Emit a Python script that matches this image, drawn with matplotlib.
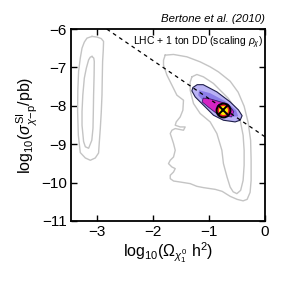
import matplotlib
matplotlib.use("Agg")
import matplotlib.pyplot as plt
import numpy as np

plt.rcParams['font.family'] = ['Liberation Sans', 'DejaVu Sans']
plt.rcParams['mathtext.fontset'] = 'custom'
plt.rcParams['mathtext.rm'] = 'Liberation Sans'
plt.rcParams['mathtext.it'] = 'Liberation Sans:italic'
plt.rcParams['mathtext.sf'] = 'Liberation Sans'

# ---- data (log10 Omega h^2, log10 sigma) ----
left_outer_x = [-3.095, -3.000, -2.929, -2.888, -2.893, -2.905, -2.911, -2.916, -2.929, -2.946,
                -2.964, -2.977, -3.036, -3.125, -3.214, -3.304, -3.339, -3.352, -3.348, -3.334,
                -3.304, -3.273, -3.232, -3.184]
left_outer_y = [-6.191, -6.209, -6.248, -6.321, -6.548, -6.843, -7.279, -7.715, -8.167, -8.585,
                -8.950, -9.230, -9.360, -9.420, -9.360, -9.220, -8.768, -8.141, -7.593, -7.097,
                -6.757, -6.496, -6.339, -6.235]

left_inner_x = [-3.095, -3.063, -3.054, -3.057, -3.066, -3.071, -3.077, -3.098, -3.155, -3.214,
                -3.245, -3.273, -3.273, -3.259, -3.232, -3.196, -3.155, -3.125]
left_inner_y = [-6.713, -6.757, -6.843, -7.201, -7.715, -8.167, -8.585, -8.898, -9.107, -9.068,
                -8.932, -8.507, -8.149, -7.723, -7.279, -7.018, -6.802, -6.731]

right_outer_x = [-1.786, -1.637, -1.398, -1.161, -0.982, -0.834, -0.625, -0.482, -0.375, -0.304,
                 -0.259, -0.250, -0.250, -0.268, -0.321, -0.393, -0.500, -0.625, -0.768, -0.893,
                 -0.982, -1.102, -1.220, -1.339, -1.518, -1.637, -1.696, -1.696, -1.637, -1.607,
                 -1.666, -1.727, -1.696, -1.637, -1.607, -1.637, -1.666, -1.696, -1.666, -1.607,
                 -1.459, -1.429, -1.518, -1.607, -1.589, -1.518, -1.470, -1.459, -1.577, -1.666,
                 -1.755, -1.816, -1.816]
right_outer_y = [-6.679, -6.661, -6.723, -6.854, -6.984, -7.115, -7.358, -7.645, -8.010, -8.428,
                 -8.898, -9.420, -9.943, -10.256, -10.439, -10.478, -10.439, -10.360, -10.230, -10.178,
                 -10.159, -10.133, -10.099, -10.029, -9.987, -9.961, -9.898, -9.812, -9.726, -9.637,
                 -9.595, -9.507, -9.420, -9.334, -9.159, -8.984, -8.854, -8.723, -8.637, -8.593,
                 -8.637, -8.551, -8.551, -8.507, -8.420, -8.290, -8.115, -7.854, -7.723, -7.462,
                 -7.201, -6.940, -6.809]

right_inner_x = [-1.309, -1.220, -1.102, -0.923, -0.804, -0.661, -0.536, -0.446, -0.393, -0.375,
                 -0.375, -0.393, -0.437, -0.505, -0.571, -0.625, -0.679, -0.745, -0.773, -0.862,
                 -0.982, -1.161, -1.280, -1.339, -1.339]
right_inner_y = [-7.245, -7.183, -7.245, -7.418, -7.593, -7.802, -8.063, -8.376, -8.768, -9.159,
                 -9.551, -9.943, -10.204, -10.290, -10.243, -10.117, -9.864, -9.507, -9.159, -8.723,
                 -8.420, -8.201, -7.940, -7.593, -7.384]

purple_x = [-1.291, -1.214, -1.107, -0.862, -0.625, -0.477, -0.411, -0.446, -0.536, -0.745,
            -0.923, -1.102, -1.250, -1.309]
purple_y = [-7.522, -7.449, -7.449, -7.637, -7.898, -8.107, -8.258, -8.376, -8.420, -8.376,
            -8.245, -7.984, -7.768, -7.611]

violet_x = [-1.179, -0.982, -0.714, -0.518, -0.482, -0.625, -0.893, -1.107, -1.196]
violet_y = [-7.593, -7.671, -7.880, -8.115, -8.272, -8.298, -8.141, -7.880, -7.723]

magenta_x = [-1.107, -0.982, -0.839, -0.661, -0.560, -0.600, -0.839, -1.018, -1.125]
magenta_y = [-7.800, -7.820, -7.880, -7.960, -8.150, -8.290, -8.230, -8.030, -7.900]

best_fit_x = [-0.745]
best_fit_y = [-8.12]

dd_line_x = [-2.83, 0.0]
dd_line_y = [-6.0, -8.81]

xticks = [-3, -2, -1, 0]
yticks = [-11, -10, -9, -8, -7, -6]


def closed(a):
    return list(a) + [a[0]]


fig = plt.figure(figsize=(2.91, 2.91), dpi=100)
ax = fig.add_axes([0.244, 0.241, 0.667, 0.659])

gray = '#c4c4c4'
ax.plot(closed(left_outer_x), closed(left_outer_y), color=gray, lw=1.0)
ax.plot(closed(left_inner_x), closed(left_inner_y), color=gray, lw=1.0)
ax.plot(closed(right_outer_x), closed(right_outer_y), color=gray, lw=1.0)
ax.plot(closed(right_inner_x), closed(right_inner_y), color=gray, lw=1.0)

ax.fill(purple_x, purple_y, facecolor='#b9b2f5', edgecolor='#1e1e4a', lw=0.8, zorder=3)
ax.fill(violet_x, violet_y, facecolor='#8c7ee8', edgecolor='none', zorder=3)
ax.fill(magenta_x, magenta_y, facecolor='#d424c4', edgecolor='#3a1a6a', lw=0.6, zorder=3)

ax.plot(dd_line_x, dd_line_y, color='black', ls=(0, (3, 3)), lw=0.9, zorder=4)

ax.plot(best_fit_x, best_fit_y, marker='o', ms=10, mfc='#e8202a', mec='black', mew=1.4, ls='none', zorder=5)
ax.plot(best_fit_x, best_fit_y, marker='o', ms=6.5, mfc='#ffee00', mec='none', ls='none', zorder=6)
ax.plot(best_fit_x, best_fit_y, marker='x', ms=7, mec='black', mew=1.4, ls='none', zorder=7)

ax.text(-2.36, -6.36, r'LHC + 1 ton DD (scaling $\rho_\chi$)', fontsize=7.5, ha='left', va='center')
ax.text(1.0, 1.025, 'Bertone et al. (2010)', transform=ax.transAxes, fontsize=8.2,
        style='italic', ha='right', va='bottom')

ax.set_xlim(-3.47, 0)
ax.set_ylim(-11, -6)
ax.set_xticks(xticks)
ax.set_yticks(yticks)
ax.set_xticklabels(['\u22123', '\u22122', '\u22121', '0'])
ax.set_yticklabels(['\u221211', '\u221210', '\u22129', '\u22128', '\u22127', '\u22126'])
ax.tick_params(direction='in', length=4, width=1.0, top=True, right=True, labelsize=11, pad=3)
for s in ax.spines.values():
    s.set_linewidth(1.3)

ax.set_xlabel(r'log$_{10}$($\Omega_{\chi_1^0}$ h$^2$)', fontsize=11.5, labelpad=1)
ax.set_ylabel(r'log$_{10}$($\sigma^{\rm SI}_{\chi\mathrm{-p}}$/pb)', fontsize=11.5, labelpad=1)

fig.savefig('out.png', dpi=100)
